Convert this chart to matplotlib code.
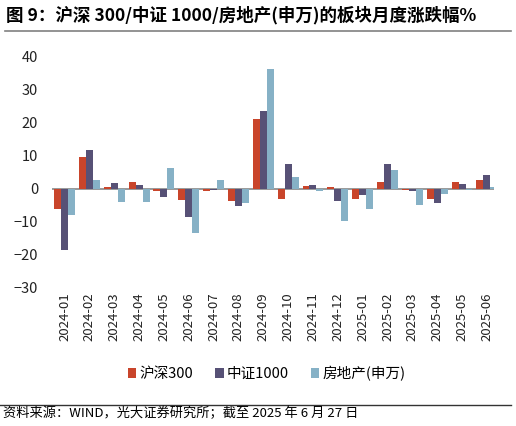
import matplotlib
matplotlib.use('Agg')
import matplotlib.pyplot as plt
import numpy as np

plt.rcParams['font.family'] = ['Noto Sans CJK SC', 'DejaVu Sans']

months = ['2024-01', '2024-02', '2024-03', '2024-04', '2024-05', '2024-06',
          '2024-07', '2024-08', '2024-09', '2024-10', '2024-11', '2024-12',
          '2025-01', '2025-02', '2025-03', '2025-04', '2025-05', '2025-06']
hs300 = [-6.2, 9.5, 0.7, 2.2, -0.7, -3.4, -0.7, -3.6, 21.2,
         -3.1, 1.0, 0.7, -3.1, 2.2, -0.4, -3.1, 2.2, 2.6]
zz1000 = [-18.5, 11.9, 1.9, 1.3, -2.5, -8.6, -0.3, -5.3, 23.5,
          7.4, 1.3, -3.7, -1.9, 7.4, -0.7, -4.4, 1.6, 4.2]
realty = [-8.0, 2.6, -3.9, -4.1, 6.2, -13.5, 2.6, -4.4, 36.3,
          3.5, -0.7, -9.8, -6.2, 5.6, -4.8, -1.6, -0.4, 0.7]

c_red = '#C9452B'
c_pur = '#575176'
c_blu = '#86B1C6'

fig = plt.figure(figsize=(5.16, 4.26), dpi=100)
ax = fig.add_axes([0.101, 0.324, 0.857, 0.543])

x = np.arange(len(months))
w = 0.28
ax.bar(x - w, hs300, w, color=c_red, label='沪深300')
ax.bar(x, zz1000, w, color=c_pur, label='中证1000')
ax.bar(x + w, realty, w, color=c_blu, label='房地产(申万)')
ax.axhline(0, color='#888888', lw=1.2, zorder=0.5)

ax.set_ylim(-30, 40)
ax.set_xlim(-0.5, 17.3)
ax.set_yticks(range(-30, 41, 10))
ax.set_xticks(x)
ax.set_xticklabels(months, rotation=90, fontsize=9.5, color='#222222')
ax.tick_params(axis='y', labelsize=10.5, colors='#222222', length=0, pad=10)
ax.tick_params(axis='x', length=0, pad=3)
for s in ax.spines.values():
    s.set_visible(False)

ax.legend(loc='center', bbox_to_anchor=(0.485, -0.37), ncol=3, frameon=False,
          fontsize=10.5, handlelength=0.6, handleheight=0.6, handletextpad=0.2,
          columnspacing=1.5)

fig.text(0.012, 0.965, '图 9：沪深 300/中证 1000/房地产(申万)的板块月度涨跌幅%',
         fontsize=12.6, fontweight='bold', va='center', ha='left')
fig.add_artist(plt.Line2D([0.01, 0.99], [0.927, 0.927], color='#808080', lw=1.2))
fig.add_artist(plt.Line2D([0.0, 0.99], [0.049, 0.049], color='#333333', lw=1.0))
fig.text(0.005, 0.029, '资料来源：WIND，光大证券研究所；截至 2025 年 6 月 27 日',
         fontsize=9.5, va='center', ha='left')

fig.savefig('out.png', dpi=100)
